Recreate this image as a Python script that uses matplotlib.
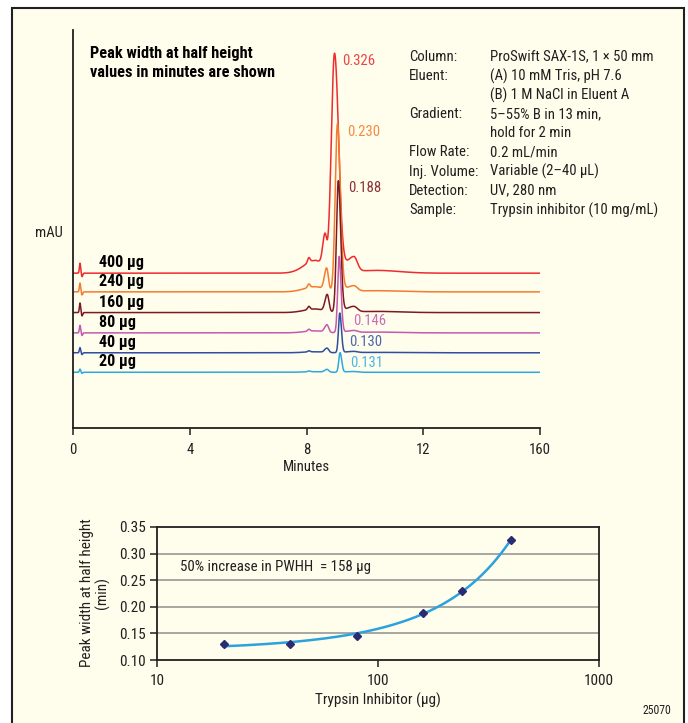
import numpy as np
import matplotlib
matplotlib.use("Agg")
import matplotlib.pyplot as plt
from matplotlib.patches import Rectangle

plt.rcParams['font.family'] = ['Roboto Condensed', 'DejaVu Sans']

W, H = 688, 723
BG = '#FFFDEC'
INK = '#231F20'
FS = 10.6     # chromatogram panel text
FS2 = 11.0    # PWHH panel text

# ---- chromatograms (y in arbitrary mAU units) ----
amount_labels = ['400 µg', '240 µg', '160 µg', '80 µg', '40 µg', '20 µg']
amount_ug = [400, 240, 160, 80, 40, 20]
pwhh = [0.326, 0.230, 0.188, 0.146, 0.130, 0.131]
pwhh_labels = ['0.326', '0.230', '0.188', '0.146', '0.130', '0.131']

offsets = [38.9, 34.2, 29.0, 23.9, 18.9, 14.0]
main_time = [8.96, 9.06, 9.09, 9.12, 9.14, 9.15]
main_height = [54.9, 42.0, 32.9, 19.1, 9.9, 4.9]
main_left_hw = [0.130, 0.090, 0.075, 0.060, 0.052, 0.052]
main_right_hw = [0.165, 0.115, 0.095, 0.075, 0.065, 0.065]
pre_time = [8.63, 8.69, 8.71, 8.70, 8.70, 8.70]
pre_height = [8.0, 5.6, 4.3, 1.9, 1.1, 0.7]
bump_height = [1.2, 0.9, 0.8, 0.5, 0.3, 0.2]        # small bump near 8.08 min
hump_height = [3.2, 1.3, 0.9, 0.5, 0.25, 0.15]      # broad rise 7.6-8.6 min
shoulder_height = [3.8, 1.4, 1.4, 0.5, 0.3, 0.2]    # shoulder 9.3-9.8 min
tail_height = [0.7, 0.3, 0.3, 0.2, 0.1, 0.0]
spike_height = [2.5, 2.2, 2.4, 1.9, 1.3, 0.8]       # injection spike

trace_colors = ['#EE2B2E', '#F47B2F', '#7C1A22', '#C45AAE', '#2F4EA2', '#2DA9E1']
label_colors = ['#EC4448', '#F58B45', '#8A3338', '#CC6DB6', '#4C68AE', '#4BB6E6']

# label placement (minutes, mAU)
label_x = [9.22, 9.38, 9.43, 9.60, 9.46, 9.49]
label_y = [92.3, 74.3, 60.2, 26.8, 21.5, 16.3]

info_keys = ['Column:', 'Eluent:', '', 'Gradient:', '', 'Flow Rate:',
             'Inj. Volume:', 'Detection:', 'Sample:']
info_vals = ['ProSwift SAX-1S, 1 × 50 mm', '(A) 10 mM Tris, pH 7.6',
             '(B) 1 M NaCl in Eluent A', '5–55% B in 13 min,', 'hold for 2 min',
             '0.2 mL/min', 'Variable (2–40 µL)', 'UV, 280 nm',
             'Trypsin inhibitor (10 mg/mL)']

x_ticks = [0, 4, 8, 12, 16]
x_ticklabels = ['0', '4', '8', '12', '160']

# ---- PWHH vs amount ----
fit_ticks_y = [0.10, 0.15, 0.20, 0.25, 0.30, 0.35]


def px(x, y):
    return x / W, 1 - y / H


def peak(t, t0, h, hw_left, hw_right=None):
    if hw_right is None:
        hw_right = hw_left
    hw = np.where(t < t0, hw_left, hw_right)
    return h * np.exp(-np.log(2) * ((t - t0) / hw) ** 2)


fig = plt.figure(figsize=(W / 100, H / 100), dpi=100, facecolor='white')
fig.patches.append(Rectangle(px(12, 730), (684 - 12) / W, (730 - 8) / H,
                             transform=fig.transFigure, facecolor=BG,
                             edgecolor=INK, lw=1.5, zorder=-1))

# ================= chromatograms =================
ax = fig.add_axes([73 / W, 1 - 428 / H, 467 / W, 398 / H])
ax.set_facecolor('none')
t = np.linspace(0, 16, 4001)
for i in range(len(amount_ug)):
    y = np.full_like(t, offsets[i])
    y += peak(t, main_time[i], main_height[i], main_left_hw[i], main_right_hw[i])
    y += peak(t, pre_time[i], pre_height[i], 0.09, 0.07)
    y += peak(t, 8.08, bump_height[i], 0.05)
    y += peak(t, 8.3, hump_height[i], 0.45, 0.3)
    y += peak(t, 9.62, shoulder_height[i], 0.3, 0.14)
    y += peak(t, 10.4, tail_height[i], 0.9)
    y += peak(t, 0.24, spike_height[i], 0.025)
    y -= peak(t, 0.31, spike_height[i] * 0.35, 0.025)
    ax.plot(t, y, color=trace_colors[i], lw=1.1, solid_joinstyle='round')
    ax.text(label_x[i], label_y[i], pwhh_labels[i], color=label_colors[i],
            fontsize=FS, va='center', ha='left')
    ax.text(0.9, offsets[i] + 2.6, amount_labels[i], color='black',
            fontsize=11.6, fontweight='bold', va='center', ha='left')

ax.set_xlim(0, 16)
ax.set_ylim(0, 100)
for s in ['top', 'right']:
    ax.spines[s].set_visible(False)
for s in ['left', 'bottom']:
    ax.spines[s].set_linewidth(1.3)
    ax.spines[s].set_color(INK)
ax.set_yticks([])
ax.set_xticks(x_ticks)
ax.set_xticklabels(x_ticklabels)
ax.tick_params(axis='x', direction='out', length=5, width=1.1, pad=6,
               labelsize=FS, colors=INK)

fig.text(*px(90, 53.3), 'Peak width at half height', fontsize=11.7,
         fontweight='bold', va='center', ha='left', color='black')
fig.text(*px(90, 72.3), 'values in minutes are shown', fontsize=11.7,
         fontweight='bold', va='center', ha='left', color='black')
for i, (k, v) in enumerate(zip(info_keys, info_vals)):
    yy = 56.7 + 19.15 * i
    if k:
        fig.text(*px(409, yy), k, fontsize=FS, va='center', ha='left', color=INK)
    fig.text(*px(490, yy), v, fontsize=FS, va='center', ha='left', color=INK)
fig.text(*px(35, 233), 'mAU', fontsize=FS, va='center', ha='left', color=INK)
fig.text(*px(306, 467), 'Minutes', fontsize=FS, va='center', ha='center', color=INK)

# ================= PWHH vs amount =================
bx = fig.add_axes([157 / W, 1 - 660 / H, 442 / W, 133 / H])
bx.set_facecolor('none')
bx.set_xscale('log')
bx.set_xlim(10, 1000)
bx.set_ylim(0.10, 0.35)
for yv in fit_ticks_y[1:-1]:
    bx.axhline(yv, color='#A7A7A3', lw=1.4, zorder=1)

coef = np.polyfit(amount_ug, pwhh, 2)
xf = np.linspace(min(amount_ug), max(amount_ug), 300)
bx.plot(xf, np.polyval(coef, xf), color='#2CA2DD', lw=1.8, zorder=2)
bx.plot(amount_ug, pwhh, ls='none', marker='D', ms=4.5, color='#2C2B72',
        zorder=3)

bx.set_yticks(fit_ticks_y)
bx.set_yticklabels([f'{v:.2f}' for v in fit_ticks_y])
bx.set_xticks([10, 100, 1000])
bx.set_xticklabels(['10', '100', '1000'])
bx.xaxis.set_minor_locator(matplotlib.ticker.NullLocator())
bx.tick_params(axis='both', direction='out', length=5, width=1.1,
               labelsize=FS2, colors=INK)
bx.tick_params(axis='y', pad=3)
bx.tick_params(axis='x', pad=5)
for s in bx.spines.values():
    s.set_linewidth(1.3)
    s.set_color(INK)

bx.text(12.7, 0.275, '50% increase in PWHH  = 158 µg', fontsize=10.7,
        va='center', ha='left', color=INK)
fig.text(*px(87, 593), 'Peak width at half height', rotation=90,
         fontsize=FS2, va='center', ha='center', color=INK)
fig.text(*px(102, 593), '(min)', rotation=90, fontsize=FS2,
         va='center', ha='center', color=INK)
fig.text(*px(378, 700), 'Trypsin Inhibitor (µg)', fontsize=FS2,
         va='center', ha='center', color=INK)
fig.text(*px(671, 711), '25070', fontsize=8.5, va='center', ha='right',
         color=INK)

fig.savefig('out.png', dpi=100, facecolor=fig.get_facecolor())
